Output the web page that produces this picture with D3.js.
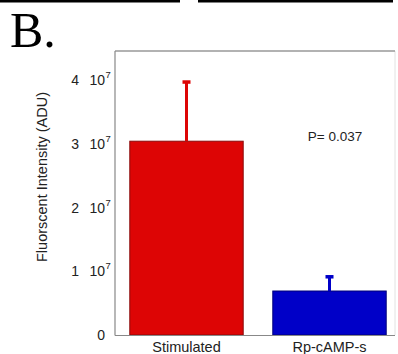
<!DOCTYPE html>
<html><head><meta charset="utf-8">
<script src="https://cdn.jsdelivr.net/npm/d3@7"></script>
<style>body{margin:0;background:#fff}svg{display:block}</style>
</head><body><svg id="c" width="398" height="354"></svg>
<script>
const categories = ["Stimulated", "Rp-cAMP-s"];
const means = [3.04e7, 0.69e7];
const errTops = [3.98e7, 0.925e7];
const fills = ["#dd0505", "#0000c8"];
const strokes = ["#8a0a0a", "#00007a"];
const tickValues = [0, 1e7, 2e7, 3e7, 4e7];
const tickMantissa = ["0", "1", "2", "3", "4"];
const yLabel = "Fluorscent Intensity (ADU)";
const pText = "P= 0.037";
const panel = "B.";

const svg = d3.select("#c");
const font = "'Liberation Sans', Arial, sans-serif";

svg.append("rect").attr("x",0).attr("y",0).attr("width",180).attr("height",2.5).attr("fill","#000");
svg.append("rect").attr("x",198).attr("y",0).attr("width",195).attr("height",2.5).attr("fill","#000");

svg.append("text").attr("x",10).attr("y",47).attr("font-family","'Liberation Serif', 'Times New Roman', serif")
  .attr("font-size",50).attr("fill","#000").text(panel);

const y = d3.scaleLinear().domain([0, 4.455e7]).range([335, 51]);
const x = d3.scaleBand().domain(categories).range([115, 401]).paddingInner(0.2).paddingOuter(0.1);

svg.append("line").attr("x1",395).attr("x2",395).attr("y1",51).attr("y2",335).attr("stroke","#e2e2e2").attr("stroke-width",1);
svg.append("line").attr("x1",115).attr("x2",395).attr("y1",51).attr("y2",51).attr("stroke","#999").attr("stroke-width",1.5);

svg.selectAll("rect.bar").data(categories).enter().append("rect").attr("class","bar")
  .attr("x", d => x(d)+0.5).attr("width", x.bandwidth()-1)
  .attr("y", (d,i) => y(means[i])).attr("height", (d,i) => y(0)-y(means[i]))
  .attr("fill", (d,i) => fills[i]).attr("stroke", (d,i) => strokes[i]).attr("stroke-width",1);

categories.forEach((d,i) => {
  const cx = x(d) + x.bandwidth()/2;
  svg.append("line").attr("x1",cx).attr("x2",cx).attr("y1",y(means[i])).attr("y2",y(errTops[i]))
    .attr("stroke",fills[i]).attr("stroke-width",3);
  svg.append("rect").attr("x",cx-4).attr("y",y(errTops[i])-1).attr("width",8).attr("height",3.5).attr("fill",fills[i]);
});

svg.append("line").attr("x1",115).attr("x2",115).attr("y1",51).attr("y2",335.5).attr("stroke","#888").attr("stroke-width",1.2);
svg.append("line").attr("x1",115).attr("x2",395).attr("y1",335.5).attr("y2",335.5).attr("stroke","#888").attr("stroke-width",1.2);

tickValues.forEach((v,i) => {
  const ty = y(v) + 5;
  if (v === 0) {
    svg.append("text").attr("x",105).attr("y",ty).attr("text-anchor","end").attr("font-family",font).attr("font-size",14).attr("fill","#222").text(tickMantissa[i]);
  } else {
    svg.append("text").attr("x",79).attr("y",ty).attr("text-anchor","end").attr("font-family",font).attr("font-size",14).attr("fill","#222").text(tickMantissa[i]);
    svg.append("text").attr("x",105).attr("y",ty).attr("text-anchor","end").attr("font-family",font).attr("font-size",14).attr("fill","#222").text("10");
    svg.append("text").attr("x",105.5).attr("y",ty-7).attr("text-anchor","start").attr("font-family",font).attr("font-size",9.5).attr("fill","#222").text("7");
  }
});

svg.append("text").attr("transform","translate(47,177) rotate(-90)").attr("text-anchor","middle")
  .attr("font-family",font).attr("font-size",14.5).attr("fill","#222").text(yLabel);

categories.forEach(d => {
  svg.append("text").attr("x", x(d)+x.bandwidth()/2).attr("y",352).attr("text-anchor","middle")
    .attr("font-family",font).attr("font-size",14.5).attr("fill","#222").text(d);
});

svg.append("text").attr("x",335).attr("y",141).attr("text-anchor","middle").attr("font-family",font)
  .attr("font-size",13.5).attr("fill","#222").text(pText);
</script></body></html>
